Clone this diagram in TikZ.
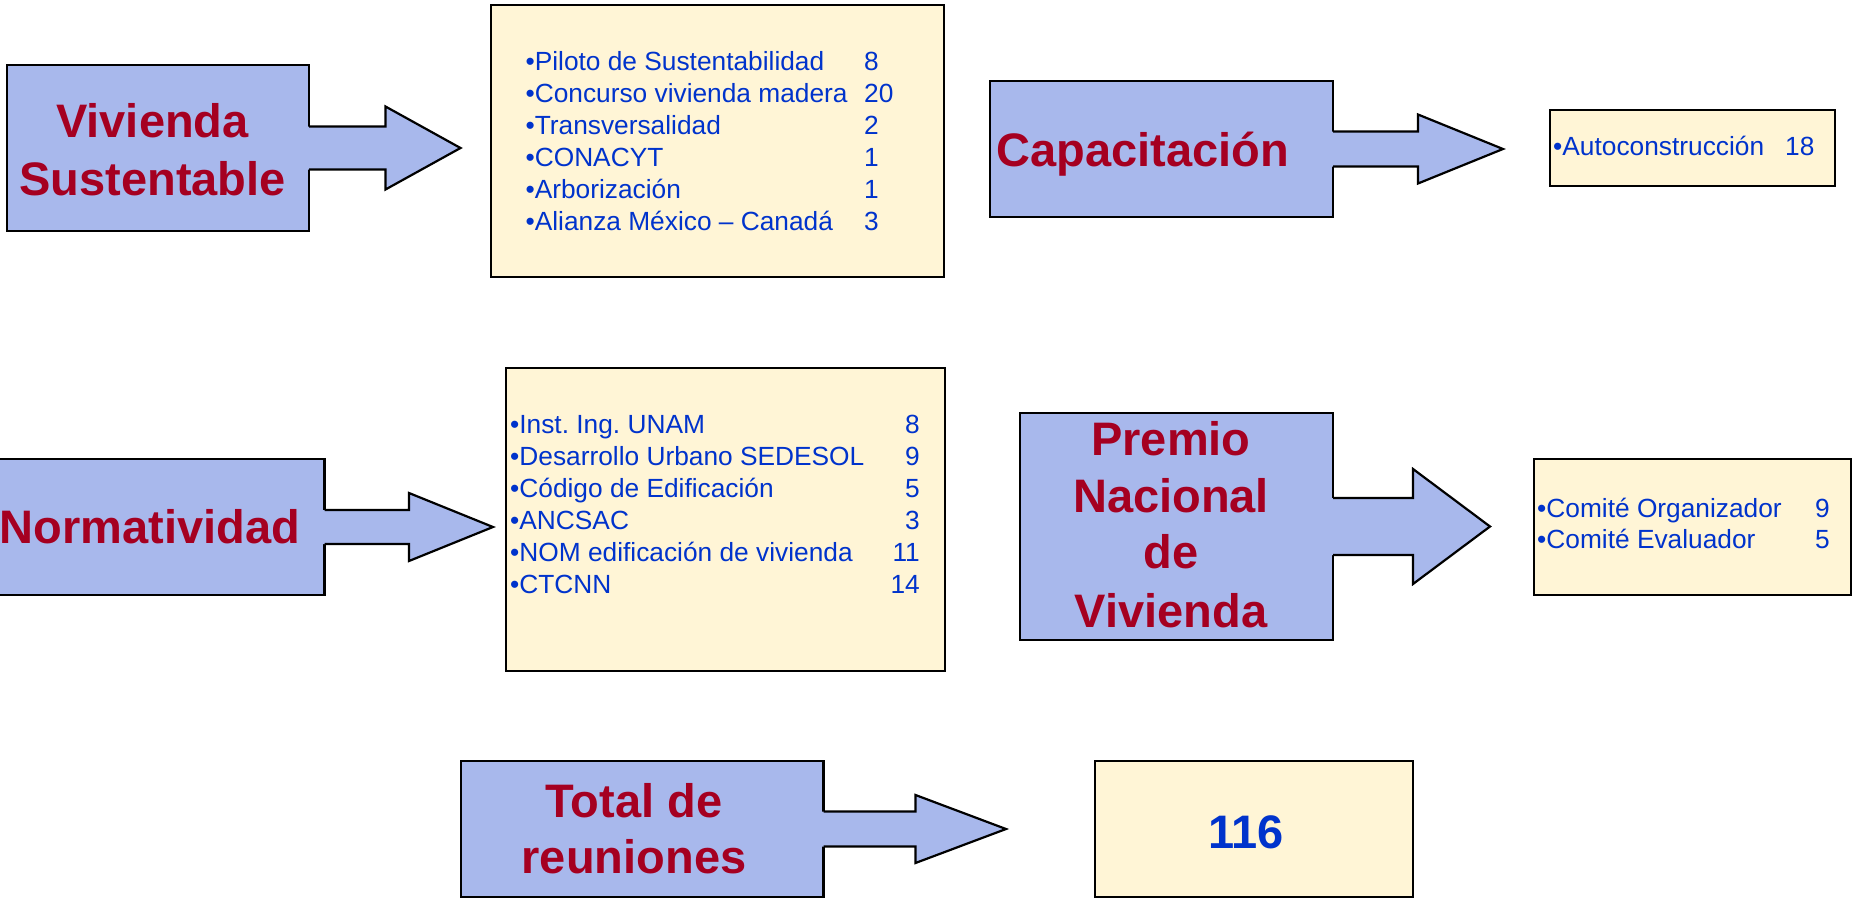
\documentclass[tikz,border=0pt]{standalone}
\usepackage{fontspec}
\setmainfont{Liberation Sans}
\usetikzlibrary{calc,fit}
\frenchspacing
\definecolor{bluefill}{HTML}{A8B8EC}
\definecolor{yelfill}{HTML}{FFF5D6}
\definecolor{redtext}{HTML}{A50021}
\definecolor{bluetext}{HTML}{0033CC}
\newcommand\hdfont{\bfseries\fontsize{47}{57}\selectfont}
\newcommand\lsfont{\fontsize{26.3}{32}\selectfont}
% block arrow: right edge x, centre y, shaft half height, head x, head half height, tip x
\newcommand\blkarrow[6]{%
  \fill[bluefill] (#1-4,#2-#3) -- (#4,#2-#3) -- (#4,#2-#5) -- (#6,#2) -- (#4,#2+#5) -- (#4,#2+#3) -- (#1-4,#2+#3) -- cycle;
  \draw[outl] (#1,#2-#3) -- (#4,#2-#3) -- (#4,#2-#5) -- (#6,#2) -- (#4,#2+#5) -- (#4,#2+#3) -- (#1,#2+#3);
}
\begin{document}
\begin{tikzpicture}[x=1pt,y=-1pt,
  bluebox/.style={draw=black, line width=2.2pt, fill=bluefill, inner sep=0pt},
  yelbox/.style={draw=black, line width=2.2pt, fill=yelfill, inner sep=0pt},
  outl/.style={draw=black, line width=2.2pt, line join=miter},
  hd/.style={font=\hdfont, text=redtext, inner sep=0pt, anchor=base},
  li/.style={font=\lsfont, text=bluetext, inner sep=0pt, anchor=base west},
  nr/.style={font=\lsfont, text=bluetext, inner sep=0pt, anchor=base east},
]
\useasboundingbox (0,0) rectangle (1858,899);
\clip (0,0) rectangle (1858,899);

% ---------- boxes ----------
\node[bluebox, fit={(7,65) (309,231)}] (A) {};
\node[yelbox, fit={(491,5) (944,277)}] (YA) {};
\node[bluebox, fit={(990,81) (1333,217)}] (B) {};
\node[yelbox, fit={(1550,110) (1835,186)}] (YB) {};
\node[bluebox, fit={(-30,459) (324.5,595)}] (C) {};
\node[yelbox, fit={(506,368) (945,671)}] (YC) {};
\node[bluebox, fit={(1020,413) (1333,640)}] (D) {};
\node[yelbox, fit={(1534,459) (1851,595)}] (YD) {};
\node[bluebox, fit={(461,761) (823.5,897)}] (E) {};
\node[yelbox, fit={(1095,761) (1413,897)}] (YE) {};

% ---------- block arrows ----------
\blkarrow{309}{148}{21.5}{385.5}{41.5}{460.5}
\blkarrow{1333}{149}{17.5}{1418}{34.5}{1503}
\blkarrow{324.5}{527}{17}{409}{34}{493}
\blkarrow{1333}{526.5}{28.5}{1413}{57.5}{1490}
\blkarrow{823.5}{829}{17.5}{915.5}{34}{1006}

% ---------- headings ----------
\node[hd] (A1) at (152.5,137) {Vivienda};
\node[hd] (A2) at (152.5,195) {Sustentable};
\node[hd] (B1) at (1143,166) {Capacitación};
\node[hd] (C1) at (150,543) {Normatividad};
\node[hd] (D1) at (1171,455) {Premio};
\node[hd] (D2) at (1171,512) {Nacional};
\node[hd] (D3) at (1171,568) {de};
\node[hd] (D4) at (1171,627) {Vivienda};
\node[hd] (E1) at (634,817) {Total de};
\node[hd] (E2) at (634,873) {reuniones};
\node[hd, text=bluetext] (T) at (1246,848) {116};

% ---------- lists ----------
\foreach \t/\n [count=\i] in {Piloto de Sustentabilidad/8, Concurso vivienda madera/20, Transversalidad/2, CONACYT/1, Arborización/1, Alianza México – Canadá/3}{
  \node[li] (sa\i) at (525.4,{70.6+31.9*(\i-1)}) {•\t};
  \node[li] (na\i) at (864,{70.6+31.9*(\i-1)}) {\n};
}
\node[li] (sb1) at (1553,155) {•Autoconstrucción};
\node[li] (nb1) at (1785,155) {18};
\foreach \t/\n [count=\i] in {Inst. Ing. UNAM/8, Desarrollo Urbano SEDESOL/9, Código de Edificación/5, ANCSAC/3, NOM edificación de vivienda/11, CTCNN/14}{
  \node[li] (sc\i) at (510,{433+32*(\i-1)}) {•\t};
  \node[nr] (nc\i) at (920,{433+32*(\i-1)}) {\n};
}
\node[li] (sd1) at (1537,517) {•Comité Organizador};
\node[nr] (nd1) at (1830,517) {9};
\node[li] (sd2) at (1537,548) {•Comité Evaluador};
\node[nr] (nd2) at (1830,548) {5};
\end{tikzpicture}
\end{document}
